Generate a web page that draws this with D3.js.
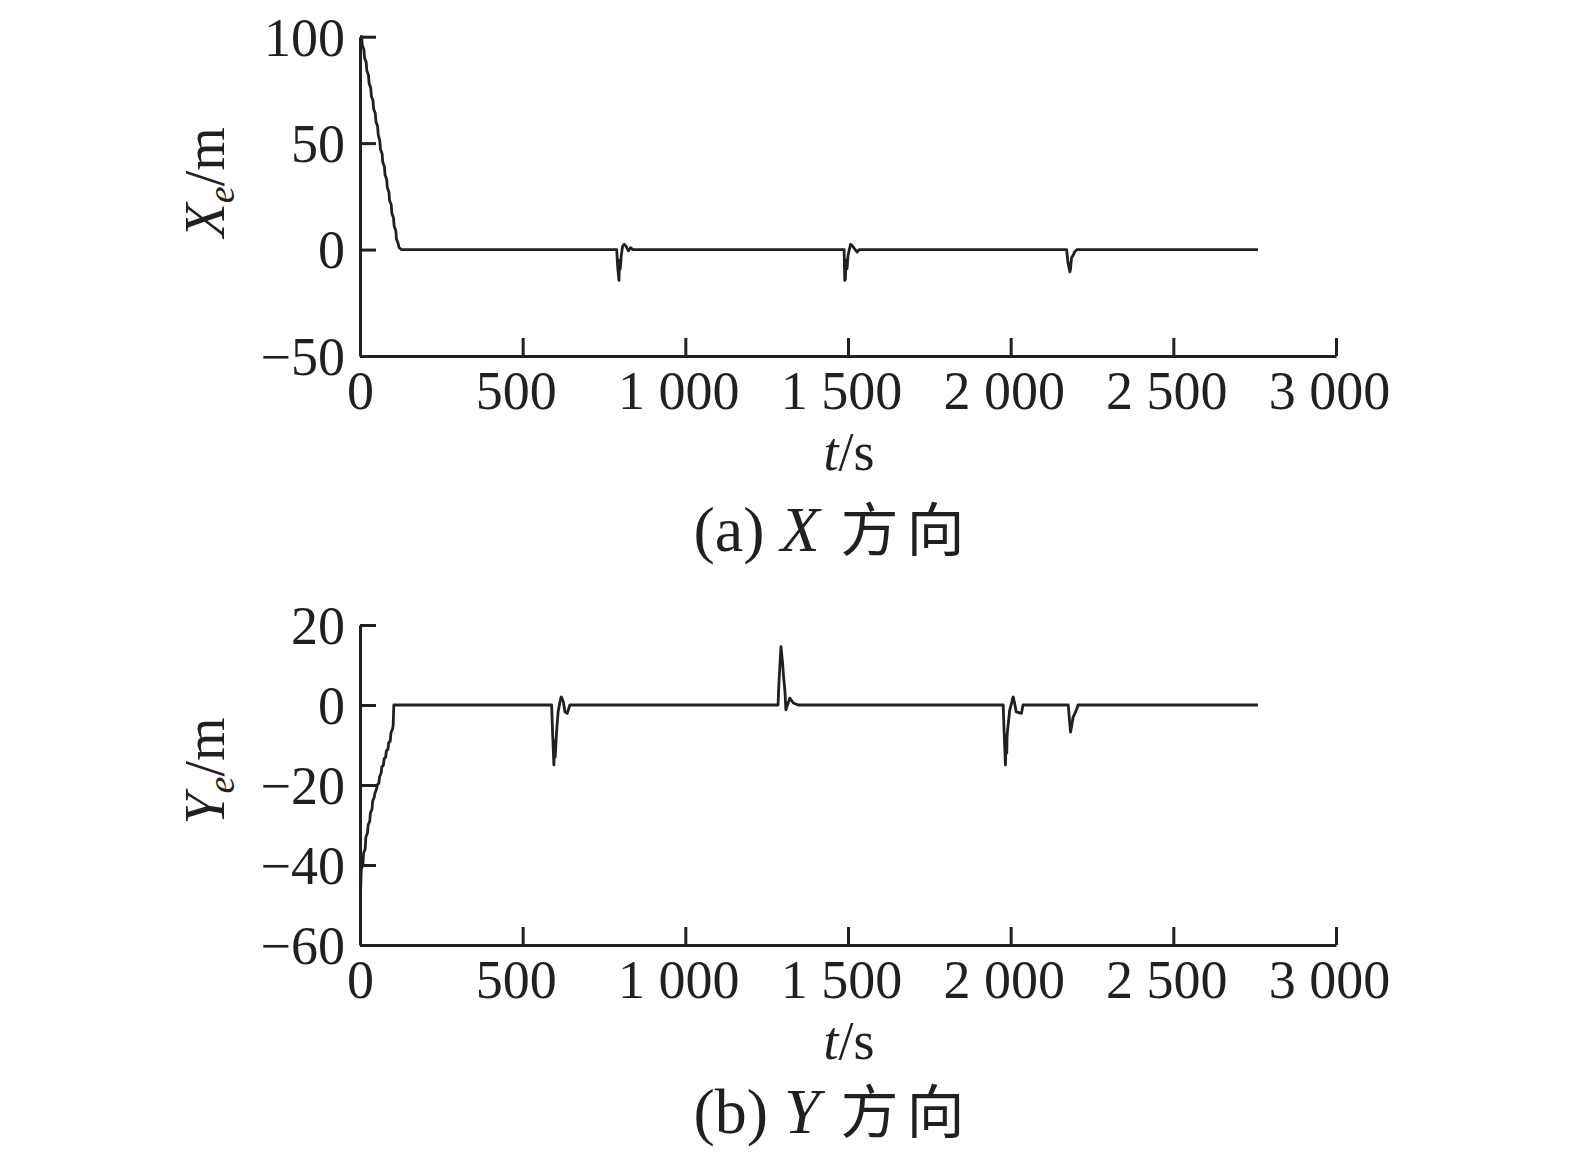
<!DOCTYPE html>
<html>
<head>
<meta charset="utf-8">
<script src="https://cdn.jsdelivr.net/npm/d3@7"></script>
<style>
  body { margin: 0; background: #fff; }
  svg text { fill: #231f20; }
</style>
</head>
<body>
<div id="chart"></div>
<script>
// time (s) and X error (m)
var tX = [0, 5, 7, 12, 14, 19, 21, 26, 28, 33, 35, 40, 42, 47, 49, 54, 56, 61, 63, 68, 70, 75, 77, 82, 84, 89, 91, 96, 98, 103, 105, 110, 112, 117, 120, 127,
          789, 792, 796, 798, 800, 803, 807, 812, 818, 825, 832, 838,
          1488, 1490, 1492, 1494, 1497, 1500, 1504, 1508, 1512, 1528, 1534,
          2172, 2176, 2182, 2184, 2187, 2192, 2197, 2204, 2760];
var xErr = [100, 100, 96, 94, 90, 88, 84, 82, 78, 76, 72, 70, 66, 64, 60, 58, 54, 51, 47, 45, 41, 39, 35, 33, 29, 27, 23, 21, 17, 15, 11, 9, 5, 3, 1, 0,
            0, -8, -14.5, -5, -9, -3, 1.5, 2.5, 1.5, -0.6, 0.9, 0,
            0, -14.5, -14, -5, -9, -3, 0, 2.5, 2, -1.2, 0,
            0, -6, -10.5, -9, -4, -2.7, -1, 0, 0];

// time (s) and Y error (m)
var tY = [0, 2, 4, 9, 11, 16, 18, 23, 25, 30, 32, 37, 39, 44, 46, 51, 53, 58, 60, 65, 67, 72, 74, 79, 81, 86, 88, 93, 95, 100, 102, 104,
          589, 592, 596, 598, 600, 604, 609, 614, 617, 619, 625, 630, 637, 645,
          1285, 1288, 1294, 1297, 1299, 1302, 1306, 1309, 1314, 1321, 1332, 1347,
          1977, 1980, 1984, 1986, 1988, 1989, 1997, 2003, 2006, 2008, 2012, 2017, 2033, 2038,
          2177, 2181, 2184, 2188, 2192, 2197, 2203, 2207, 2760];
var yErr = [-46, -46, -41, -40, -37, -36, -33, -32, -30, -29, -27, -26, -24, -23, -22, -21, -20, -19.5, -18, -17, -15.5, -15, -13.5, -13, -11.5, -11, -9.5, -9, -7, -6, -5, 0,
            0, -7, -15, -9, -13, -7, -1.7, 0.5, 1.7, 2, 0.8, -1.7, -2.1, 0,
            0, 6, 14.6, 12, 10.4, 7, 3.7, -1.2, 0, 1.7, 0.5, 0,
            0, -7, -15, -9, -12, -7.6, -1.3, 0.5, 1.7, 2, 0.5, -1.7, -2.1, 0,
            0, -4, -6.8, -5, -3, -2.2, -1, 0, 0];

var tTicks = [0, 500, 1000, 1500, 2000, 2500, 3000];
var xTicks = [-50, 0, 50, 100];
var yTicks = [-60, -40, -20, 0, 20];

var W = 1575, H = 1169;
var ink = '#231f20';
var serif = '"Liberation Serif", "Times New Roman", serif';
var cjk = '"Noto Sans CJK SC", sans-serif';

var svg = d3.select('#chart').append('svg')
    .attr('width', W)
    .attr('height', H)
    .style('font-family', serif);

function fmtT(d) {
    if (d >= 1000) return Math.floor(d / 1000) + ' ' + String(d % 1000).padStart(3, '0');
    return String(d);
}
function fmtV(d) {
    return d < 0 ? '\u2212' + Math.abs(d) : String(d);
}

// one panel: series ts/vs, y domain and ticks, pixel top/bottom of the plot, caption baseline
function panel(ts, vs, yDom, yTickVals, yTop, yBot, capY, letter, sym) {
    var x = d3.scaleLinear().domain([0, 3000]).range([360, 1336]);
    var y = d3.scaleLinear().domain(yDom).range([yBot, yTop]);

    var g = svg.append('g');

    var xAxis = g.append('g')
        .attr('transform', 'translate(0,' + yBot + ')')
        .call(d3.axisBottom(x).tickValues(tTicks).tickFormat(fmtT)
            .tickSizeInner(-18).tickSizeOuter(0).tickPadding(15));
    xAxis.selectAll('text')
        .attr('dx', function(d) { return d > 0 ? -7 : 0; });

    var yAxis = g.append('g')
        .attr('transform', 'translate(360,0)')
        .call(d3.axisLeft(y).tickValues(yTickVals).tickFormat(fmtV)
            .tickSizeInner(-16).tickSizeOuter(0).tickPadding(15));

    [xAxis, yAxis].forEach(function(a) {
        a.select('.domain').attr('stroke', ink).attr('stroke-width', 3);
        a.selectAll('.tick line').attr('stroke', ink).attr('stroke-width', 3);
        a.selectAll('text')
            .attr('fill', ink)
            .style('font-family', serif)
            .style('font-size', '54px');
    });
    yAxis.selectAll('text').attr('dy', '0.34em');

    var pts = ts.map(function(t, i) { return [t, vs[i]]; });
    var line = d3.line()
        .x(function(d) { return x(d[0]); })
        .y(function(d) { return y(d[1]); });

    g.append('path')
        .datum(pts)
        .attr('d', line)
        .attr('fill', 'none')
        .attr('stroke', ink)
        .attr('stroke-width', 2.8)
        .attr('stroke-linejoin', 'round');

    // y axis title, rotated
    var yl = g.append('text')
        .attr('transform', 'translate(224,' + ((yTop + yBot) / 2 - 14) + ') rotate(-90)')
        .attr('text-anchor', 'middle')
        .style('font-size', '56px');
    yl.append('tspan').style('font-style', 'italic').text(sym);
    yl.append('tspan').style('font-style', 'italic').style('font-size', '38px').attr('dy', 10).text('e');
    yl.append('tspan').attr('dy', -10).text('/m');

    // x axis title
    var xl = g.append('text')
        .attr('x', 849)
        .attr('y', yBot + 114)
        .attr('text-anchor', 'middle')
        .style('font-size', '54px');
    xl.append('tspan').style('font-style', 'italic').text('t');
    xl.append('tspan').text('/s');

    // caption
    var cap = g.append('text')
        .attr('x', 833)
        .attr('y', capY)
        .attr('text-anchor', 'middle')
        .style('font-size', '64px');
    cap.append('tspan').text('(' + letter + ') ');
    cap.append('tspan').style('font-style', 'italic').text(sym);
    cap.append('tspan').style('font-family', cjk).style('font-size', '58px')
        .style('letter-spacing', '8px').text(' 方向');
}

panel(tX, xErr, [-50, 100], xTicks, 36.7, 356, 551, 'a', 'X');
panel(tY, yErr, [-60, 20], yTicks, 625, 945, 1133, 'b', 'Y');
</script>
</body>
</html>
